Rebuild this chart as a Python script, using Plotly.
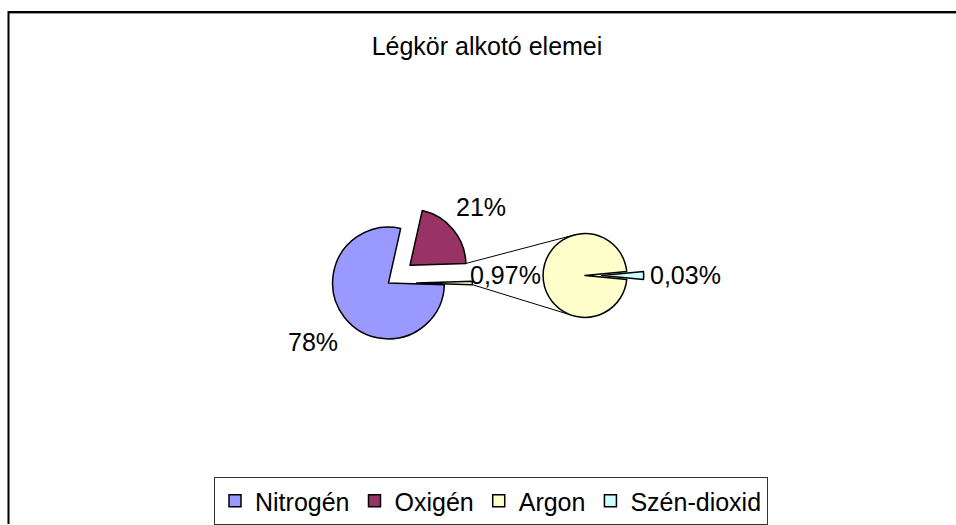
import math
import plotly.graph_objects as go

# ---- data ----
title_text = "Légkör alkotó elemei"
main_labels = ["Nitrogén", "Oxigén"]
main_values = [78, 21]
sub_labels = ["Argon", "Szén-dioxid"]
sub_values = [0.97, 0.03]
main_colors = ["#9999FF", "#993366"]
sub_colors = ["#FFFFCC", "#CCFFFF"]

# ---- geometry (pixels) ----
W, H = 956, 525
FONT = "Liberation Sans, Arial, sans-serif"
FS = 25
cx1, cy1, r1, pull1 = 388.5, 283.5, 56.0, 0.5
cx2, cy2, r2, pull2 = 585.0, 276.0, 42.0, 0.4

other_value = sum(sub_values)
p1_values = main_values + [other_value]
p1_labels = main_labels + [sub_labels[0]]  # split slice shares legend entry with the second pie
p1_colors = main_colors + [sub_colors[0]]
total1 = sum(p1_values)
total2 = sum(sub_values)


def fmt(v):
    return f"{v:g}%".replace(".", ",")


# rotations: split slice centred at 3 o'clock, CO2 slice centred at 3 o'clock
rot1 = 90 + 180 * other_value / total1
rot2 = 90 + 180 * sub_values[1] / total2


def dom(cx, cy, r, pull):
    h = r * (1 + pull)
    return dict(x=[(cx - h) / W, (cx + h) / W], y=[(H - cy - h) / H, (H - cy + h) / H])


line = dict(color="black", width=1.5)
fig = go.Figure()
fig.add_trace(go.Pie(
    labels=p1_labels, values=p1_values, textinfo="none",
    sort=False, direction="clockwise", rotation=rot1,
    pull=[0, pull1, pull1], marker=dict(colors=p1_colors, line=line),
    domain=dom(cx1, cy1, r1, pull1),
))
fig.add_trace(go.Pie(
    labels=sub_labels, values=sub_values, textinfo="none",
    sort=False, direction="clockwise", rotation=rot2,
    pull=[0, pull2], marker=dict(colors=sub_colors, line=line),
    domain=dom(cx2, cy2, r2, pull2),
))


def pt(cx, cy, r, ang):
    a = math.radians(ang)
    return cx + r * math.sin(a), cy - r * math.cos(a)


# slice angles of the first pie
a_n = rot1 + 360 * main_values[0] / total1
a_o = a_n + 360 * main_values[1] / total1
a_e = a_o + 360 * other_value / total1
mid_n = (rot1 + a_n) / 2
mid_o = (a_n + a_o) / 2
mid_e = (a_o + a_e) / 2
ox, oy = pt(0, 0, pull1 * r1, mid_o)
ex, ey = pt(0, 0, pull1 * r1, mid_e)

# slice angles of the second pie
b_a = rot2 + 360 * sub_values[0] / total2
mid_a = (rot2 + b_a) / 2
mid_c = (b_a + rot2 + 360) / 2
cx_, cy_ = pt(0, 0, pull2 * r2, mid_c)

# ---- data labels (outside, along slice mid-angles) ----
LBL_GAP = 38
labels_pos = [
    (fmt(main_values[0]), pt(cx1, cy1, r1 + LBL_GAP + 2, mid_n)),
    (fmt(main_values[1]), pt(cx1 + ox, cy1 + oy, r1 + LBL_GAP - 2, mid_o)),
    (fmt(sub_values[0]), pt(cx2, cy2, r2 + LBL_GAP, mid_a)),
    (fmt(sub_values[1]), pt(cx2 + cx_, cy2 + cy_, r2 + LBL_GAP + 4, mid_c)),
]
annotations = []
for txt, (x, y) in labels_pos:
    annotations.append(dict(text=txt, x=x / W, y=1 - y / H, xref="paper", yref="paper",
                            xanchor="center", yanchor="middle", showarrow=False,
                            font=dict(family=FONT, size=FS, color="black")))

# ---- connector lines (computed from slice angles) ----
start_up = pt(cx1 + ox, cy1 + oy, r1, a_o)
start_lo = pt(cx1 + ex, cy1 + ey, r1, a_e)


def tangent(p, upper):
    dx, dy = p[0] - cx2, p[1] - cy2
    d = math.hypot(dx, dy)
    base = math.atan2(dy, dx)
    beta = math.acos(r2 / d)
    cands = [(cx2 + r2 * math.cos(base + s * beta), cy2 + r2 * math.sin(base + s * beta)) for s in (1, -1)]
    cands.sort(key=lambda q: q[1])
    return cands[0] if upper else cands[1]


shapes = []
for s, up in ((start_up, True), (start_lo, False)):
    e = tangent(s, up)
    shapes.append(dict(type="line", xref="paper", yref="paper",
                       x0=s[0] / W, y0=1 - s[1] / H, x1=e[0] / W, y1=1 - e[1] / H,
                       line=dict(color="black", width=1), layer="below"))

# chart frame
shapes.append(dict(type="line", xref="paper", yref="paper", x0=8 / W, y0=1 - 13.5 / H, x1=1, y1=1 - 13.5 / H,
                   line=dict(color="#999999", width=1)))
shapes.append(dict(type="line", xref="paper", yref="paper", x0=8 / W, y0=1 - 12 / H, x1=1, y1=1 - 12 / H,
                   line=dict(color="black", width=2)))
shapes.append(dict(type="line", xref="paper", yref="paper", x0=8.5 / W, y0=1 - 11 / H, x1=8.5 / W, y1=0,
                   line=dict(color="black", width=2)))

fig.update_layout(
    width=W, height=H, margin=dict(l=0, r=0, t=0, b=0),
    paper_bgcolor="white", plot_bgcolor="white",
    font=dict(family=FONT, size=FS, color="black"),
    title=dict(text=title_text, x=487 / W, xanchor="center", y=1 - 46 / H, yanchor="middle",
               font=dict(family=FONT, size=FS, color="black")),
    showlegend=True,
    legend=dict(orientation="h", x=214 / W, xanchor="left", y=1 - 478 / H, yanchor="top",
                bordercolor="#333333", borderwidth=1, bgcolor="white",
                font=dict(family=FONT, size=FS, color="black")),
    shapes=shapes,
    annotations=annotations,
)

fig.write_html("out.html", config={"displayModeBar": False},
               post_script="document.body.style.margin='0';")
